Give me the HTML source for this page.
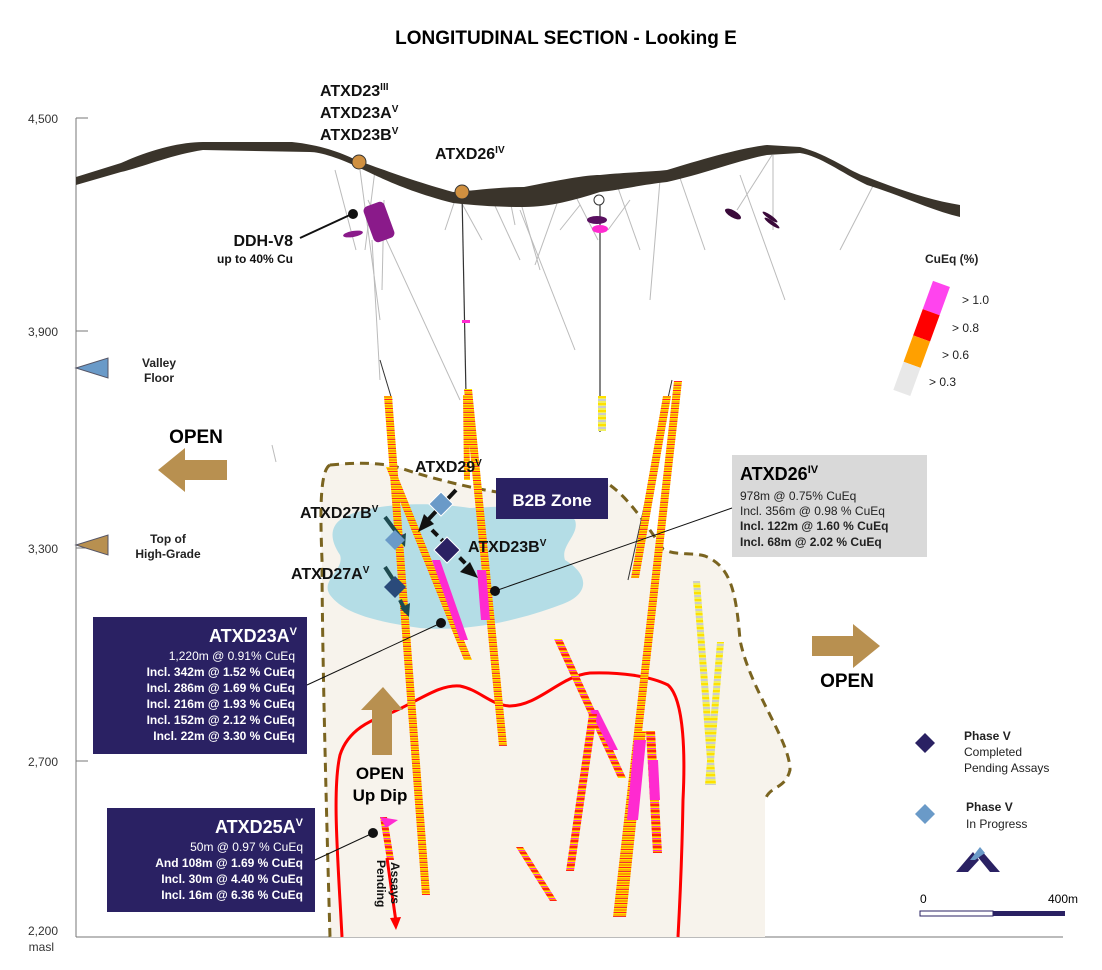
<!DOCTYPE html>
<html><head><meta charset="utf-8"><style>
html,body{margin:0;padding:0;background:#fff}
svg{display:block;font-family:"Liberation Sans","DejaVu Sans",sans-serif}
</style></head><body>
<svg width="1102" height="970" viewBox="0 0 1102 970" xmlns="http://www.w3.org/2000/svg">
<defs>
<pattern id="ore" width="8" height="9" patternUnits="userSpaceOnUse">
<rect width="8" height="9" fill="#ffe000"/>
<rect y="0" width="8" height="2" fill="#ff9a00"/>
<rect y="3" width="8" height="1" fill="#f22"/>
<rect y="5" width="8" height="2" fill="#ffb000"/>
<rect y="7" width="8" height="1" fill="#e33"/>
</pattern>
<pattern id="oreR" width="8" height="6" patternUnits="userSpaceOnUse">
<rect width="8" height="6" fill="#ff9a00"/>
<rect y="0" width="8" height="2" fill="#f21"/>
<rect y="3" width="8" height="1" fill="#ffe000"/>
<rect y="4" width="8" height="1" fill="#ff2ad0"/>
</pattern>
<pattern id="oreG" width="8" height="7" patternUnits="userSpaceOnUse">
<rect width="8" height="7" fill="#f0f060"/>
<rect y="0" width="8" height="2" fill="#ccc"/>
<rect y="4" width="8" height="2" fill="#ffe000"/>
</pattern>
</defs>

<text x="566" y="44" font-size="19" font-weight="bold" text-anchor="middle">LONGITUDINAL SECTION - Looking E</text>

<!-- axis -->
<g stroke="#777" stroke-width="1" fill="none">
<line x1="76" y1="118" x2="76" y2="937"/>
<line x1="76" y1="118" x2="88" y2="118"/>
<line x1="76" y1="331" x2="88" y2="331"/>
<line x1="76" y1="548" x2="88" y2="548"/>
<line x1="76" y1="761" x2="88" y2="761"/>
<line x1="76" y1="937" x2="1063" y2="937"/>
</g>
<g font-size="12" fill="#333" text-anchor="end">
<text x="58" y="123">4,500</text>
<text x="58" y="336">3,900</text>
<text x="58" y="553">3,300</text>
<text x="58" y="766">2,700</text>
<text x="58" y="935">2,200</text>
<text x="54" y="951">masl</text>
</g>

<!-- beige zone -->
<path d="M330,465 C360,462 380,463 397,467 C430,478 470,488 497,492 C540,495 580,483 607,483 C625,495 640,515 663,549 C675,556 690,552 705,556 C730,566 736,590 740,640 C750,690 790,740 790,770 C785,790 770,785 765,800 L765,937 L330,937 C326,800 322,640 322,560 C320,510 318,470 330,465 Z" fill="#f7f3ec"/>
<path d="M330,465 C360,462 380,463 397,467 C430,478 470,488 497,492 C540,495 580,483 607,483 C625,495 640,515 663,549 C675,556 690,552 705,556 C730,566 736,590 740,640 C750,690 790,740 790,770 C785,790 770,785 765,800" fill="none" stroke="#7a6420" stroke-width="3" stroke-dasharray="9,6"/>
<path d="M330,465 C320,470 320,510 322,560 C322,640 326,800 330,937" fill="none" stroke="#7a6420" stroke-width="3" stroke-dasharray="9,6"/>

<!-- blue blob -->
<path d="M340,520 C360,505 420,500 470,508 C520,505 560,505 575,520 C580,535 560,545 565,560 C590,575 590,595 560,605 C520,620 470,632 420,628 C380,622 345,615 330,595 C320,580 345,570 340,555 C330,540 330,528 340,520 Z" fill="#b4dde6"/>

<!-- red curve -->
<path d="M342,937 C338,860 332,790 340,755 C348,730 370,720 393,712 C420,700 440,684 460,686 C480,690 490,705 510,706 C540,705 560,676 590,673 C620,672 650,676 668,685 C685,700 685,760 683,800 C682,860 680,900 678,937" fill="none" stroke="#f00" stroke-width="3"/>

<!-- thin grey holes from surface -->
<g stroke="#bbb" stroke-width="1">
<line x1="335" y1="170" x2="356" y2="250"/>
<line x1="360" y1="170" x2="380" y2="320"/>
<line x1="375" y1="170" x2="365" y2="250"/>
<line x1="368" y1="200" x2="460" y2="400"/>
<line x1="372" y1="240" x2="380" y2="380"/>
<line x1="455" y1="200" x2="445" y2="230"/>
<line x1="460" y1="200" x2="482" y2="240"/>
<line x1="490" y1="195" x2="520" y2="260"/>
<line x1="510" y1="200" x2="515" y2="225"/>
<line x1="520" y1="200" x2="540" y2="270"/>
<line x1="560" y1="195" x2="535" y2="265"/>
<line x1="575" y1="195" x2="598" y2="240"/>
<line x1="520" y1="210" x2="575" y2="350"/>
<line x1="580" y1="205" x2="560" y2="230"/>
<line x1="630" y1="200" x2="608" y2="230"/>
<line x1="680" y1="178" x2="705" y2="250"/>
<line x1="772" y1="155" x2="737" y2="210"/>
<line x1="773" y1="155" x2="773" y2="230"/>
<line x1="875" y1="182" x2="840" y2="250"/>
<line x1="617" y1="185" x2="640" y2="250"/>
<line x1="660" y1="180" x2="650" y2="300"/>
<line x1="740" y1="175" x2="785" y2="300"/>
<line x1="384" y1="200" x2="382" y2="290"/>
<line x1="272" y1="445" x2="276" y2="462"/>
</g>
<line x1="380" y1="360" x2="392" y2="400" stroke="#333" stroke-width="1"/>
<line x1="462" y1="193" x2="466" y2="395" stroke="#333" stroke-width="1.2"/>
<line x1="600" y1="200" x2="600" y2="432" stroke="#333" stroke-width="1.2"/>
<line x1="672" y1="380" x2="628" y2="580" stroke="#333" stroke-width="1"/>

<!-- topography -->
<path d="M76,177 L121,163 C150,150 180,142 203,142 L292,142 C320,145 340,152 356,160 C390,172 410,180 453,192 C480,190 500,187 524,187 C560,180 585,175 600,175 C630,172 650,172 667,170 C700,160 740,148 767,145 L800,147 C830,155 850,172 867,177 C900,190 930,200 960,205 L960,217 C930,210 900,195 867,185 C840,172 820,156 800,153 L767,155 C740,160 700,175 667,182 C640,185 620,190 600,192 C575,200 550,207 524,207 C500,207 480,206 453,203 C410,192 385,180 364,170 C340,158 320,152 310,152 L203,150 C170,155 140,168 121,172 L76,185 Z" fill="#3a342b"/>

<!-- magenta blobs -->
<g fill="#8a1a8a">
<rect x="368" y="203" width="22" height="38" rx="5" transform="rotate(-20 379 222)"/>
<ellipse cx="353" cy="234" rx="10" ry="3" transform="rotate(-10 353 234)"/>
<ellipse cx="597" cy="220" rx="10" ry="4" fill="#5a1060"/>
<ellipse cx="600" cy="229" rx="8" ry="4" fill="#ff2ad0"/>
</g>
<g fill="#3a0a3a">
<ellipse cx="733" cy="214" rx="9" ry="3.5" transform="rotate(30 733 214)"/>
<ellipse cx="770" cy="217" rx="9" ry="2" transform="rotate(35 770 217)"/>
<ellipse cx="772" cy="223" rx="9" ry="2" transform="rotate(35 772 223)"/>
</g>
<circle cx="599" cy="200" r="5" fill="#fff" stroke="#333" stroke-width="1"/>

<!-- colored drill holes -->
<g stroke-width="0">
<polygon points="384,396 392,396 430,895 422,895" fill="url(#ore)"/>
<polygon points="386,467 394,467 472,660 464,660" fill="url(#ore)"/>
<polygon points="432,560 440,560 468,640 460,640" fill="#ff2ad0"/>
<polygon points="464,389 472,389 507,746 499,746" fill="url(#ore)"/>
<polygon points="477,570 486,570 490,620 481,620" fill="#ff2ad0"/>
<polygon points="598,396 606,396 606,431 598,431" fill="url(#oreG)"/>
<polygon points="674,381 682,381 621,917 613,917" fill="url(#ore)"/>
<polygon points="663,396 671,396 639,578 631,578" fill="url(#ore)"/>
<polygon points="554,639 562,639 626,778 618,778" fill="url(#oreR)"/>
<polygon points="590,710 598,710 618,750 610,750" fill="#ff2ad0"/>
<polygon points="589,714 597,714 574,871 566,871" fill="url(#oreR)"/>
<polygon points="636,731 646,731 626,917 616,917" fill="url(#ore)"/>
<polygon points="634,740 646,740 638,820 627,820" fill="#ff2ad0"/>
<polygon points="646,731 655,731 662,853 653,853" fill="url(#oreR)"/>
<polygon points="648,760 658,760 660,800 650,800" fill="#ff2ad0"/>
<polygon points="693,581 700,581 716,785 709,785" fill="url(#oreG)"/>
<polygon points="717,642 724,642 712,785 705,785" fill="url(#oreG)"/>
<polygon points="516,847 523,847 557,901 550,901" fill="url(#oreR)"/>
<polygon points="380,817 387,817 394,860 387,860" fill="url(#oreR)"/>
<polygon points="380,817 398,820 386,828" fill="#ff2ad0"/>
<polygon points="463,395 469,395 470,480 464,480" fill="url(#ore)"/>
<rect x="462" y="320" width="8" height="3" fill="#ff2ad0"/>
</g>

<!-- collars -->
<circle cx="359" cy="162" r="7" fill="#d09040" stroke="#333" stroke-width="1"/>
<circle cx="462" cy="192" r="7" fill="#d09040" stroke="#333" stroke-width="1"/>

<!-- top labels -->
<g font-weight="bold" font-size="16" fill="#111">
<text x="320" y="96">ATXD23<tspan font-size="10" dy="-6">III</tspan></text>
<text x="320" y="118">ATXD23A<tspan font-size="10" dy="-6">V</tspan></text>
<text x="320" y="140">ATXD23B<tspan font-size="10" dy="-6">V</tspan></text>
<text x="435" y="159">ATXD26<tspan font-size="10" dy="-6">IV</tspan></text>
<text x="293" y="246" text-anchor="end">DDH-V8</text>
<text x="293" y="263" text-anchor="end" font-size="12">up to 40% Cu</text>
</g>
<line x1="300" y1="238" x2="352" y2="214" stroke="#111" stroke-width="2"/>
<circle cx="353" cy="214" r="5" fill="#111"/>

<!-- legend bar -->
<g transform="rotate(20 920 340)">
<rect x="912" y="280" width="18" height="30" fill="#ff44ee"/>
<rect x="912" y="310" width="18" height="28" fill="#f00"/>
<rect x="912" y="338" width="18" height="28" fill="#ffa000"/>
<rect x="912" y="366" width="18" height="30" fill="#e8e8e8"/>
</g>
<g font-size="12" fill="#222">
<text x="925" y="263" font-weight="bold">CuEq (%)</text>
<text x="962" y="304">&gt; 1.0</text>
<text x="952" y="332">&gt; 0.8</text>
<text x="942" y="359">&gt; 0.6</text>
<text x="929" y="386">&gt; 0.3</text>
</g>

<!-- left markers -->
<polygon points="76,368 108,358 108,378" fill="#6a9ac8" stroke="#556" stroke-width="1"/>
<polygon points="76,545 108,535 108,555" fill="#b89050" stroke="#556" stroke-width="1"/>
<g font-size="12" font-weight="bold" fill="#222" text-anchor="middle">
<text x="159" y="367">Valley</text><text x="159" y="382">Floor</text>
<text x="168" y="543">Top of</text><text x="168" y="558">High-Grade</text>
</g>

<!-- OPEN arrows -->
<polygon points="158,470 185,448 185,460 227,460 227,480 185,480 185,492" fill="#b89050"/>
<text x="196" y="443" font-size="19" font-weight="bold" text-anchor="middle">OPEN</text>
<polygon points="880,646 853,624 853,636 812,636 812,656 853,656 853,668" fill="#b89050"/>
<text x="847" y="687" font-size="19" font-weight="bold" text-anchor="middle">OPEN</text>
<polygon points="383,687 403,710 392,710 392,755 372,755 372,710 361,710" fill="#b89050"/>
<text x="380" y="779" font-size="17" font-weight="bold" text-anchor="middle">OPEN</text>
<text x="380" y="801" font-size="17" font-weight="bold" text-anchor="middle">Up Dip</text>

<!-- B2B box -->
<rect x="496" y="478" width="112" height="41" fill="#2a2163"/>
<text x="552" y="506" font-size="17" font-weight="bold" fill="#fff" text-anchor="middle">B2B Zone</text>

<!-- diamonds & arrows -->
<g stroke="#111" stroke-width="4" fill="none">
<line x1="456" y1="490" x2="426" y2="522"/>
<line x1="432" y1="530" x2="470" y2="568" stroke-dasharray="8,5"/>
</g>
<polygon points="418,532 424,514 434,524" fill="#111"/>
<polygon points="478,578 460,572 470,562" fill="#111"/>
<g stroke="#1e4a50" stroke-width="4">
<line x1="385" y1="517" x2="400" y2="537"/>
<line x1="385" y1="567" x2="400" y2="590"/>
<line x1="400" y1="600" x2="406" y2="612"/>
</g>
<polygon points="405,547 396,538 406,533" fill="#1e4a50"/>
<polygon points="409,617 400,608 410,603" fill="#1e4a50"/>
<polygon points="441,492 453,504 441,516 429,504" fill="#6a9ac8" stroke="#fff" stroke-width="1"/>
<polygon points="447,537 460,550 447,563 434,550" fill="#2a2163" stroke="#fff" stroke-width="1"/>
<polygon points="395,530 405,540 395,550 385,540" fill="#6a9ac8"/>
<polygon points="395,576 406,587 395,598 384,587" fill="#2a4a7a"/>

<g font-weight="bold" font-size="16" fill="#111">
<text x="415" y="472">ATXD29<tspan font-size="10" dy="-6">V</tspan></text>
<text x="300" y="518">ATXD27B<tspan font-size="10" dy="-6">V</tspan></text>
<text x="468" y="552">ATXD23B<tspan font-size="10" dy="-6">V</tspan></text>
<text x="291" y="579">ATXD27A<tspan font-size="10" dy="-6">V</tspan></text>
</g>

<!-- ATXD26 grey box -->
<rect x="732" y="455" width="195" height="102" fill="#d9d9d9"/>
<text x="740" y="480" font-size="18" font-weight="bold">ATXD26<tspan font-size="11" dy="-7">IV</tspan></text>
<g font-size="12" fill="#222">
<text x="740" y="500">978m @ 0.75% CuEq</text>
<text x="740" y="515">Incl. 356m @ 0.98 % CuEq</text>
<text x="740" y="530" font-weight="bold">Incl. 122m @ 1.60 % CuEq</text>
<text x="740" y="546" font-weight="bold">Incl. 68m @ 2.02 % CuEq</text>
</g>
<line x1="495" y1="591" x2="732" y2="508" stroke="#111" stroke-width="1"/>
<circle cx="495" cy="591" r="5" fill="#111"/>

<!-- ATXD23A box -->
<rect x="93" y="617" width="214" height="137" fill="#2a2163"/>
<g fill="#fff" text-anchor="end">
<text x="297" y="642" font-size="18" font-weight="bold">ATXD23A<tspan font-size="11" dy="-7">V</tspan></text>
<text x="295" y="660" font-size="12">1,220m @ 0.91% CuEq</text>
<g font-size="12" font-weight="bold">
<text x="295" y="676">Incl. 342m @ 1.52 % CuEq</text>
<text x="295" y="692">Incl. 286m @ 1.69 % CuEq</text>
<text x="295" y="708">Incl. 216m @ 1.93 % CuEq</text>
<text x="295" y="724">Incl. 152m @ 2.12 % CuEq</text>
<text x="295" y="740">Incl. 22m @ 3.30 % CuEq</text>
</g></g>
<line x1="307" y1="685" x2="441" y2="623" stroke="#111" stroke-width="1"/>
<circle cx="441" cy="623" r="5" fill="#111"/>

<!-- ATXD25A box -->
<rect x="107" y="808" width="208" height="104" fill="#2a2163"/>
<g fill="#fff" text-anchor="end">
<text x="303" y="833" font-size="18" font-weight="bold">ATXD25A<tspan font-size="11" dy="-7">V</tspan></text>
<text x="303" y="851" font-size="12">50m @ 0.97 % CuEq</text>
<g font-size="12" font-weight="bold">
<text x="303" y="867">And 108m @ 1.69 % CuEq</text>
<text x="303" y="883">Incl. 30m @ 4.40 % CuEq</text>
<text x="303" y="899">Incl. 16m @ 6.36 % CuEq</text>
</g></g>
<line x1="315" y1="860" x2="373" y2="833" stroke="#111" stroke-width="1"/>
<circle cx="373" cy="833" r="5" fill="#111"/>

<!-- assays pending -->
<line x1="387" y1="858" x2="396" y2="922" stroke="#f00" stroke-width="3"/>
<polygon points="396,930 390,918 401,917" fill="#f00"/>
<g font-size="12" font-weight="bold" fill="#111">
<text transform="translate(391,862) rotate(90)">Assays</text>
<text transform="translate(377,860) rotate(90)">Pending</text>
</g>

<!-- legend -->
<polygon points="925,733 935,743 925,753 915,743" fill="#2a2163"/>
<polygon points="925,804 935,814 925,824 915,814" fill="#6a9ac8"/>
<g font-size="12" fill="#222">
<text x="964" y="740" font-weight="bold">Phase V</text>
<text x="964" y="756">Completed</text>
<text x="964" y="772">Pending Assays</text>
<text x="966" y="811" font-weight="bold">Phase V</text>
<text x="966" y="828">In Progress</text>
</g>
<!-- logo -->
<polygon points="956,872 973,852 979,860 968,872" fill="#2a2163"/>
<polygon points="981,850 1000,872 990,872 977,856" fill="#2a2163"/>
<polygon points="970,860 980,847 985,853 975,860" fill="#6a9ac8"/>

<!-- scale -->
<text x="920" y="903" font-size="12">0</text>
<text x="1048" y="903" font-size="12">400m</text>
<rect x="920" y="911" width="73" height="5" fill="#fff" stroke="#2a2163" stroke-width="1"/>
<rect x="993" y="911" width="72" height="5" fill="#2a2163"/>
</svg>
</body></html>
